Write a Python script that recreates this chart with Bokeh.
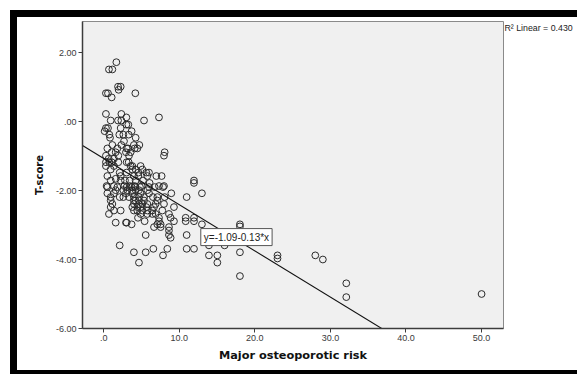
from bokeh.plotting import figure
from bokeh.models import Range1d, FixedTicker, Label, LinearAxis, ColumnDataSource, Div
from bokeh.layouts import column, row
from bokeh.embed import file_html
from bokeh.resources import INLINE

# ---------------- data ----------------
x_ticks = [0, 10, 20, 30, 40, 50]
x_tick_labels = [".0", "10.0", "20.0", "30.0", "40.0", "50.0"]
y_ticks = [-6, -4, -2, 0, 2]
y_tick_labels = ["-6.00", "-4.00", "-2.00", ".00", "2.00"]

x_label = "Major osteoporotic risk"
y_label = "T-score"

# T-score levels (rows) and the Major osteoporotic risk values seen on each row
tscore_levels = [
    1.72, 1.51, 1.01, 0.92, 0.82, 0.70, 0.22, 0.12, 0.03, -0.09,
    -0.19, -0.28, -0.38, -0.47, -0.57, -0.68, -0.78, -0.89, -0.99, -1.08,
    -1.18, -1.29, -1.39, -1.48, -1.58, -1.66, -1.71, -1.78, -1.87, -1.90,
    -1.99, -2.08, -2.19, -2.29, -2.39, -2.48, -2.58, -2.68, -2.79, -2.89,
    -2.93, -2.98, -3.04, -3.06, -3.16, -3.29, -3.37, -3.59, -3.69, -3.79,
    -3.88, -3.97, -4.00, -4.09, -4.48, -4.69, -5.00, -5.09,
]
risk_at_level = [
    [1.68],
    [0.70, 1.15],
    [1.90, 2.25],
    [1.98],
    [0.30, 0.57, 4.19],
    [1.06],
    [0.30, 2.34],
    [3.00, 7.32],
    [0.93, 1.90, 2.34, 5.34],
    [3.00, 3.26],
    [0.30, 0.57, 2.25],
    [0.13, 3.70],
    [0.75, 2.07, 2.60, 3.31],
    [0.84, 4.23],
    [2.69],
    [1.15, 2.34, 4.00, 4.72],
    [0.49, 1.81, 3.04, 3.22, 4.10, 4.45],
    [1.06, 1.59, 2.95, 3.57, 8.07],
    [0.30, 1.94, 3.35, 7.98],
    [0.66, 1.36],
    [0.30, 0.75, 1.06, 1.94, 3.04, 3.31],
    [0.30, 1.36, 3.57, 3.79, 4.89],
    [0.93, 3.79, 4.23, 5.12],
    [2.12, 3.04, 4.59, 5.64, 6.00],
    [0.49, 2.25, 4.00, 4.59, 5.78, 6.97, 7.67],
    [1.59],
    [0.93, 2.25, 2.82, 3.44, 4.23, 5.20, 11.95],
    [6.08, 11.95],
    [0.39, 1.36, 2.74, 3.44, 4.10, 5.03, 7.32, 7.98],
    [0.49, 1.81, 3.04, 3.70, 4.14, 4.80, 6.00, 6.75, 7.85],
    [1.59, 2.60, 3.13, 3.79, 4.23, 4.67, 5.78],
    [0.49, 1.36, 2.95, 3.79, 4.89, 6.00, 8.95, 13.00],
    [0.93, 2.12, 2.60, 3.35, 4.00, 4.67, 5.34, 6.52, 7.10, 8.07, 10.98],
    [0.93, 4.00, 4.23, 4.67, 5.34, 7.10],
    [1.15, 4.00, 4.67, 5.12, 5.78, 6.88, 7.98],
    [0.93, 3.79, 4.45, 4.89, 5.64, 6.66, 9.30],
    [1.36, 2.25, 4.00, 4.45, 5.12, 5.78, 6.44, 7.76],
    [0.70, 4.89, 5.78, 6.44, 6.88, 8.64],
    [4.54, 7.32, 8.86, 10.85, 11.95],
    [5.42, 7.32, 9.30, 10.85, 11.95],
    [1.59, 2.95, 3.04],
    [3.70, 7.10, 7.54, 13.00, 18.03],
    [18.03],
    [6.66, 7.54, 8.64],
    [8.64],
    [5.56, 8.64, 10.98, 13.93],
    [8.86],
    [2.12, 13.93, 16.00],
    [6.57, 8.42, 10.98, 11.95],
    [4.00, 5.56, 18.03],
    [7.85, 13.93, 15.04, 23.00, 28.00],
    [23.00],
    [29.00],
    [4.67, 15.04],
    [18.03],
    [32.10],
    [50.00],
    [32.10],
]

fit_intercept = -1.07
fit_slope = -0.134
fit_label = "y=-1.09-0.13*x"
r2_label = "R\u00b2 Linear = 0.430"
r2_label_at = 2.70  # T-score level beside which the R² note sits

x_start, x_end = -2.8, 52.9
y_start, y_end = -6.0, 2.9

# ---------------- build ----------------
risk, tscore = [], []
for lvl, xs in zip(tscore_levels, risk_at_level):
    for xv in xs:
        risk.append(xv)
        tscore.append(lvl)

FONT = "Liberation Sans"
LABEL_FONT = "DejaVu Sans"

p = figure(width=560, height=353, output_backend="svg", toolbar_location=None,
           x_range=Range1d(x_start, x_end), y_range=Range1d(y_start, y_end),
           min_border_left=65, min_border_right=74, min_border_top=4,
           min_border_bottom=42)
p.background_fill_color = "#f0f0f0"
p.border_fill_color = "white"
p.outline_line_color = "#8a8a8a"
p.outline_line_width = 1
p.xgrid.visible = False
p.ygrid.visible = False

for ax, ticks, labels, title in ((p.xaxis[0], x_ticks, x_tick_labels, x_label),
                                 (p.yaxis[0], y_ticks, y_tick_labels, y_label)):
    ax.ticker = FixedTicker(ticks=ticks)
    ax.major_label_overrides = {t: l for t, l in zip(ticks, labels)}
    ax.axis_line_color = "#3c3c3c"
    ax.axis_line_width = 1.5
    ax.major_tick_line_color = "#3c3c3c"
    ax.major_tick_out = 4
    ax.major_tick_in = 0
    ax.minor_tick_out = 0
    ax.minor_tick_in = 0
    ax.major_label_text_font = FONT
    ax.major_label_text_font_size = "9px"
    ax.major_label_text_color = "#3a3a3a"
    ax.major_label_standoff = 2
    ax.axis_label = title
    ax.axis_label_text_font = LABEL_FONT
    ax.axis_label_text_font_style = "bold"
    ax.axis_label_text_color = "#111111"

p.xaxis.axis_label_text_font_size = "11.3px"
p.yaxis.axis_label_text_font_size = "10px"
p.xaxis.axis_label_standoff = 5
p.yaxis.axis_label_standoff = 8

# R² note to the right of the frame, as a label-only axis
r2_axis = LinearAxis(ticker=FixedTicker(ticks=[r2_label_at]),
                     major_label_overrides={r2_label_at: r2_label},
                     axis_line_color=None, major_tick_line_color=None,
                     minor_tick_line_color=None, major_tick_out=0, major_tick_in=0,
                     minor_tick_out=0, minor_tick_in=0, major_label_standoff=1,
                     major_label_text_font=FONT, major_label_text_font_size="8.8px",
                     major_label_text_color="#222222")
p.add_layout(r2_axis, "right")

src = ColumnDataSource(dict(x=risk, y=tscore))
p.scatter("x", "y", source=src, size=6.8, marker="circle",
          fill_alpha=0, line_color="#2b2b2b", line_width=1)

fx = [x_start, x_end]
fy = [fit_intercept + fit_slope * v for v in fx]
p.line(fx, fy, line_color="#111111", line_width=1.1)

p.add_layout(Label(x=12.85, y=-3.35, text=fit_label, text_baseline="middle",
                   text_align="left", text_font=FONT, text_font_size="10px",
                   text_color="#222222", background_fill_color="white",
                   border_line_color="#555555", border_line_width=1, padding=3))

# black frame around the chart, built from plain blocks in the page layout
BLACK = {"background-color": "black"}
top_pad = Div(text="", width=577, height=10, margin=0)
left_pad = Div(text="", width=10, height=364, margin=0)
band_left = Div(text="", width=7, height=364, margin=0, styles=BLACK)
band_top = Div(text="", width=560, height=7, margin=0, styles=BLACK)
band_bottom = Div(text="", width=560, height=4, margin=0, styles=BLACK)

page = column(top_pad,
              row(left_pad, band_left,
                  column(band_top, p, band_bottom, spacing=0),
                  spacing=0),
              spacing=0)

open("out.html", "w").write(file_html(page, INLINE))
